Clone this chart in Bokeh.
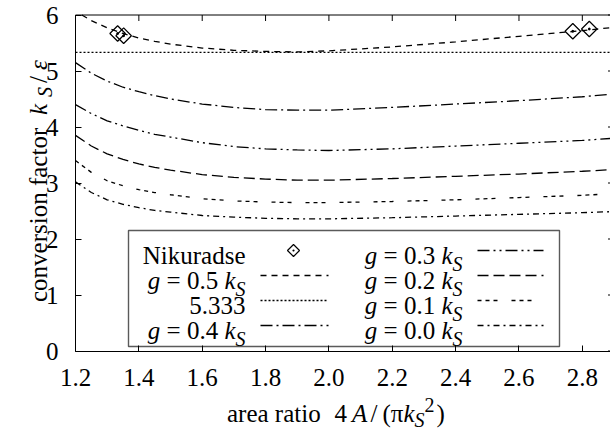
import numpy as np
from bokeh.plotting import figure
from bokeh.models import Range1d, LinearAxis, FixedTicker, Label, PrintfTickFormatter
from bokeh.embed import file_html
from bokeh.resources import INLINE

# ---------------- data ----------------
ratio = [1.2, 1.25, 1.3, 1.35, 1.4, 1.45, 1.5, 1.6, 1.7, 1.8, 1.9, 2.0, 2.2, 2.4, 2.6, 2.8, 2.9]
ratio_g05 = [1.22, 1.25, 1.3, 1.35, 1.4, 1.45, 1.5, 1.6, 1.7, 1.8, 1.9, 2.0, 2.2, 2.4, 2.6, 2.8, 2.9]
g05 = [6.00, 5.90, 5.77, 5.67, 5.59, 5.53, 5.48, 5.41, 5.37, 5.35, 5.34, 5.36, 5.43, 5.52, 5.62, 5.72, 5.78]
g04 = [5.15, 4.96, 4.82, 4.71, 4.63, 4.56, 4.50, 4.41, 4.35, 4.31, 4.30, 4.30, 4.35, 4.41, 4.47, 4.54, 4.59]
g03 = [4.40, 4.24, 4.11, 4.02, 3.94, 3.87, 3.82, 3.72, 3.65, 3.61, 3.59, 3.58, 3.61, 3.66, 3.71, 3.76, 3.80]
g02 = [3.85, 3.66, 3.52, 3.42, 3.34, 3.28, 3.23, 3.15, 3.10, 3.07, 3.05, 3.05, 3.08, 3.12, 3.16, 3.21, 3.24]
g01 = [3.40, 3.19, 3.04, 2.95, 2.88, 2.83, 2.79, 2.72, 2.68, 2.66, 2.65, 2.65, 2.67, 2.70, 2.74, 2.78, 2.81]
g00 = [3.02, 2.83, 2.70, 2.62, 2.56, 2.51, 2.48, 2.42, 2.39, 2.37, 2.36, 2.36, 2.38, 2.41, 2.44, 2.47, 2.49]
nik_x = [1.333, 1.352, 2.770, 2.822]
nik_y = [5.67, 5.63, 5.71, 5.75]
ref_value = 5.333
x_ticks = [1.2, 1.4, 1.6, 1.8, 2.0, 2.2, 2.4, 2.6, 2.8]
y_ticks = [0, 1, 2, 3, 4, 5, 6]
X_MIN, X_MAX = 1.2, 2.9
Y_MIN, Y_MAX = 0, 6

# ---------------- layout constants (page pixels) ----------------
FW, FH = 610, 432
PL, PR, PT, PB = 75, 613.5, 14.5, 350.5      # plot box on the page
FONT = "Liberation Serif"
FS = 25
SUBFS = 20
INK = "black"
TICK = 6
SXU = (PR - PL) / (X_MAX - X_MIN)
SYU = (PB - PT) / (Y_MAX - Y_MIN)


def dx(px):
    return X_MIN + (px - PL) / SXU


def dy(py):
    return Y_MAX - (py - PT) / SYU


p = figure(width=FW, height=FH, output_backend="svg", toolbar_location=None,
           x_range=Range1d(dx(0), dx(FW)), y_range=Range1d(dy(FH), dy(0)),
           x_axis_location=None, y_axis_location=None, min_border=0)
p.outline_line_color = None
p.grid.visible = False
p.background_fill_color = "white"
p.border_fill_color = "white"


def make_axis(loc, bounds, ticks, fmt, standoff):
    return LinearAxis(fixed_location=loc, bounds=bounds, ticker=FixedTicker(ticks=ticks),
                      formatter=fmt, axis_line_color=INK, axis_line_width=1,
                      major_tick_in=TICK, major_tick_out=0, major_tick_line_color=INK,
                      minor_tick_line_color=None, major_label_standoff=standoff,
                      major_label_text_font=FONT, major_label_text_font_size=f"{FS}px",
                      major_label_text_color=INK)


p.add_layout(make_axis(Y_MIN, (X_MIN, X_MAX), x_ticks, PrintfTickFormatter(format="%.1f"), 18), "below")
p.add_layout(make_axis(X_MIN, (Y_MIN, Y_MAX), y_ticks, PrintfTickFormatter(format="%d"), 17), "left")

# mirrored border and ticks on top / right (gnuplot-style box)
p.line([X_MIN, X_MAX], [Y_MAX, Y_MAX], line_color=INK, line_width=1)
p.segment(x0=x_ticks, y0=[Y_MAX] * len(x_ticks), x1=x_ticks,
          y1=[Y_MAX - TICK / SYU] * len(x_ticks), line_color=INK, line_width=1)
p.segment(x0=[X_MAX] * len(y_ticks), y0=y_ticks, x1=[X_MAX - TICK / SXU] * len(y_ticks),
          y1=y_ticks, line_color=INK, line_width=1)

LW = 1.3
styles = {
    "g05": "6 5",
    "ref": "2 2",
    "g04": "12 4 2 4",
    "g03": "12 4 2 4 2 4",
    "g02": "11 5",
    "g01": "4 4 4 4 4 14",
    "g00": "6 4 2 4",
}

p.line(ratio_g05, g05, line_color=INK, line_width=LW, line_dash=styles["g05"])
p.line([X_MIN, X_MAX], [ref_value, ref_value], line_color=INK, line_width=1.3, line_dash=styles["ref"])
p.line(ratio, g04, line_color=INK, line_width=LW, line_dash=styles["g04"])
p.line(ratio, g03, line_color=INK, line_width=LW, line_dash=styles["g03"])
p.line(ratio, g02, line_color=INK, line_width=LW, line_dash=styles["g02"])
p.line(ratio, g01, line_color=INK, line_width=LW, line_dash=styles["g01"])
p.line(ratio, g00, line_color=INK, line_width=LW, line_dash=styles["g00"])
p.scatter(nik_x, nik_y, marker="square_dot", size=11, angle=np.pi / 4,
          line_color=INK, fill_color=None, line_width=1.2)


# ---------------- text helpers ----------------
def put(t, italic, size, px, py, angle=0.0):
    p.add_layout(Label(x=dx(px), y=dy(py), text=t, angle=angle,
                       text_font=FONT, text_font_size=f"{size}px",
                       text_font_style="italic" if italic else "normal",
                       text_color=INK, text_align="left", text_baseline="alphabetic"))


W_REG = {' ': 250, '=': 564, '.': 250, 'N': 722, 'i': 278, 'k': 500, 'u': 500, 'r': 333,
         'a': 444, 'd': 500, 's': 389, 'e': 444}
for d in "0123456789":
    W_REG[d] = 500


def tw(text, size):
    return sum(W_REG.get(ch, 500) for ch in text) * size / 1000.0


def gk_label(val, right_px, base_py):
    # "g = <val> k_S", right aligned at right_px
    sp = 0.25 * FS
    w_g = 0.5 * FS
    w_mid = tw(f"= {val}", FS)
    w_k = 0.444 * FS
    w_s = 0.5 * SUBFS
    total = w_g + sp + w_mid + sp + w_k + w_s
    x = right_px - total
    put("g", True, FS, x, base_py)
    put(f"= {val}", False, FS, x + w_g + sp, base_py)
    put("k", True, FS, x + w_g + 2 * sp + w_mid, base_py)
    put("S", True, SUBFS, x + w_g + 2 * sp + w_mid + w_k, base_py + 8)


def plain_right(t, right_px, base_py):
    put(t, False, FS, right_px - tw(t, FS), base_py)


# y axis title (rotated, reads bottom to top)
YLX = 37.5
put("conversion factor", False, FS, YLX, 301.5, np.pi / 2)
put("k", True, FS, YLX, 114.5, np.pi / 2)
put("S", True, SUBFS, YLX + 7, 96.5, np.pi / 2)
put("/", False, FS, YLX, 82.5, np.pi / 2)
put("ε", True, FS, YLX, 69.5, np.pi / 2)

# x axis title
XLB = 413
put("area ratio", False, FS, 226.5, XLB)
put("4", False, FS, 334, XLB)
put("A", True, FS, 351.5, XLB)
put("/", False, FS, 370, XLB)
put("(π", False, FS, 382, XLB)
put("k", True, FS, 403, XLB)
put("S", True, SUBFS, 414, XLB + 6)
put("2", False, SUBFS, 424, XLB - 9)
put(")", False, FS, 436, XLB)

# ---------------- legend ----------------
BOX_L, BOX_R, BOX_T, BOX_B = 128, 559, 230, 346
p.quad(left=[dx(BOX_L)], right=[dx(BOX_R)], top=[dy(BOX_T)], bottom=[dy(BOX_B)],
       fill_color="white", line_color="#5a5a5a", line_width=1.4)

rows_base = [255, 280, 305, 330]
rows_line = [b - 5 for b in rows_base]
C1_TXT, C1_L0, C1_L1 = 245, 260, 328
C2_TXT, C2_L0, C2_L1 = 462, 477, 543

plain_right("Nikuradse", C1_TXT, rows_base[0])
p.scatter([dx(293)], [dy(rows_line[0])], marker="square_dot", size=8.5,
          angle=np.pi / 4, line_color=INK, fill_color=None, line_width=1.2)
gk_label("0.5", C1_TXT, rows_base[1])
p.line([dx(C1_L0), dx(C1_L1)], [dy(rows_line[1])] * 2, line_color=INK, line_width=LW, line_dash=styles["g05"])
plain_right("5.333", C1_TXT, rows_base[2])
p.line([dx(C1_L0), dx(C1_L1)], [dy(rows_line[2])] * 2, line_color=INK, line_width=1.3, line_dash=styles["ref"])
gk_label("0.4", C1_TXT, rows_base[3])
p.line([dx(C1_L0), dx(C1_L1)], [dy(rows_line[3])] * 2, line_color=INK, line_width=LW, line_dash=styles["g04"])

for i, (lab, key) in enumerate([("0.3", "g03"), ("0.2", "g02"), ("0.1", "g01"), ("0.0", "g00")]):
    gk_label(lab, C2_TXT, rows_base[i])
    p.line([dx(C2_L0), dx(C2_L1)], [dy(rows_line[i])] * 2, line_color=INK, line_width=LW,
           line_dash=styles[key])

open("out.html", "w").write(file_html(p, INLINE))
